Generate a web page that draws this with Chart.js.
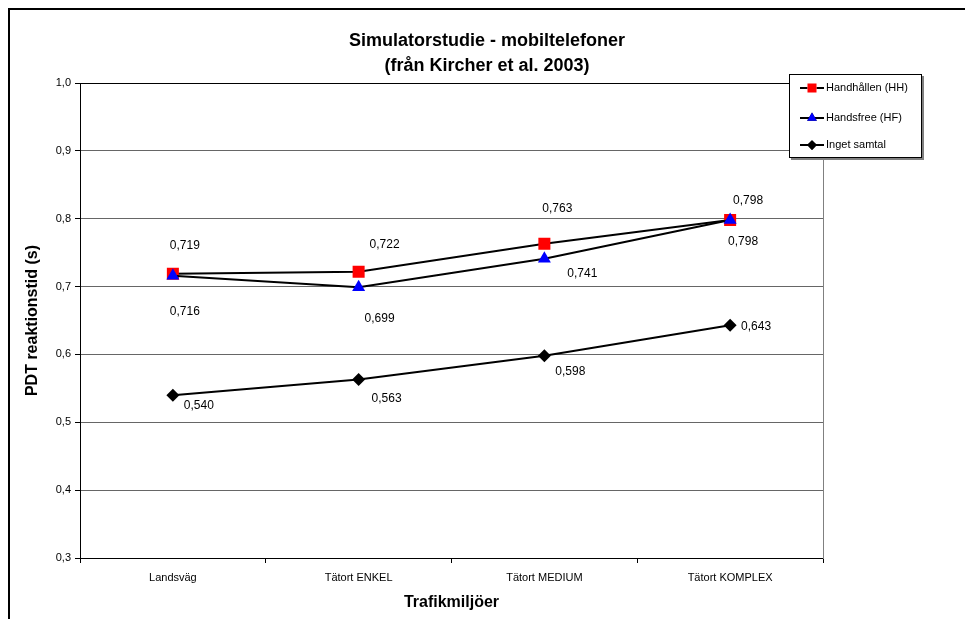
<!DOCTYPE html>
<html><head><meta charset="utf-8">
<script src="https://cdn.jsdelivr.net/npm/chart.js@4"></script>
<style>html,body{margin:0;padding:0;background:#fff}#wrap{position:relative;width:965px;height:619px}</style>
</head><body><div id="wrap"><canvas id="c" width="965" height="619"></canvas></div>
<script>
// ---- data ----
const categories = ['Landsväg', 'Tätort ENKEL', 'Tätort MEDIUM', 'Tätort KOMPLEX'];
const handhallen = [0.719, 0.722, 0.763, 0.798];
const handsfree = [0.716, 0.699, 0.741, 0.798];
const ingetSamtal = [0.540, 0.563, 0.598, 0.643];
const yTicks = [0.3, 0.4, 0.5, 0.6, 0.7, 0.8, 0.9, 1.0];
const seriesNames = ['Handhållen (HH)', 'Handsfree (HF)', 'Inget samtal'];
const titleLines = ['Simulatorstudie - mobiltelefoner', '(från Kircher et al. 2003)'];
const xTitle = 'Trafikmiljöer';
const yTitle = 'PDT reaktionstid (s)';

// ---- label placement (styling, pixel offsets from each point) ----
const labelOffsets = [
  [[12, -28], [26, -27], [13, -35], [18, -19]],
  [[12, 36], [21, 31], [38, 15], [13, 22]],
  [[26, 11], [28, 19], [26, 16], [26, 1]]
];

const FONT = '"Liberation Sans", Arial, sans-serif';
const fmt = v => v.toFixed(3).replace('.', ',');

const framePlugin = {
  id: 'frame',
  beforeDraw(chart) {
    const ctx = chart.ctx;
    ctx.save();
    ctx.fillStyle = '#fff';
    ctx.fillRect(0, 0, chart.width, chart.height);
    ctx.fillStyle = '#000';
    ctx.fillRect(8, 8, chart.width - 8, 2);
    ctx.fillRect(8, 8, 2, chart.height - 8);
    ctx.restore();
  },
  afterDatasetsDraw(chart) {
    const ctx = chart.ctx, a = chart.chartArea;
    ctx.save();
    // right border of plot
    ctx.strokeStyle = '#808080';
    ctx.lineWidth = 1;
    ctx.beginPath();
    ctx.moveTo(Math.round(a.right) + 0.5, a.top);
    ctx.lineTo(Math.round(a.right) + 0.5, a.bottom + 1);
    ctx.stroke();
    // titles
    ctx.fillStyle = '#000';
    ctx.textAlign = 'center';
    ctx.textBaseline = 'middle';
    ctx.font = 'bold 18px ' + FONT;
    ctx.fillText(titleLines[0], 487, 41);
    ctx.fillText(titleLines[1], 487, 66);
    ctx.font = 'bold 16px ' + FONT;
    ctx.fillText(xTitle, (a.left + a.right) / 2, 603);
    ctx.save();
    ctx.translate(33, (a.top + a.bottom) / 2);
    ctx.rotate(-Math.PI / 2);
    ctx.fillText(yTitle, 0, 0);
    ctx.restore();
    // data labels
    ctx.font = '12px ' + FONT;
    chart.data.datasets.forEach((ds, i) => {
      const meta = chart.getDatasetMeta(i);
      meta.data.forEach((pt, j) => {
        const off = labelOffsets[i][j];
        ctx.fillText(fmt(ds.data[j]), pt.x + off[0], pt.y + off[1]);
      });
    });
    // legend
    const bx = 789, by = 74, bw = 132, bh = 83;
    ctx.fillStyle = '#808080';
    ctx.fillRect(bx + 2, by + 2, bw + 1, bh + 1);
    ctx.fillStyle = '#fff';
    ctx.fillRect(bx, by, bw, bh);
    ctx.strokeStyle = '#000';
    ctx.strokeRect(bx + 0.5, by + 0.5, bw, bh);
    const rows = [88, 118, 145];
    chart.data.datasets.forEach((ds, i) => {
      const y = rows[i];
      ctx.strokeStyle = '#000';
      ctx.lineWidth = 2;
      ctx.beginPath();
      ctx.moveTo(800, y);
      ctx.lineTo(824, y);
      ctx.stroke();
      Chart.helpers.drawPoint(ctx, {
        pointStyle: ds.pointStyle,
        radius: ds.pointRadius * 0.75,
        borderWidth: 0
      }, 812, y);
      ctx.fillStyle = ds.pointBackgroundColor;
      ctx.fill();
      ctx.fillStyle = '#000';
      ctx.textAlign = 'left';
      ctx.font = '11px ' + FONT;
      ctx.fillText(seriesNames[i], 826, y);
    });
    ctx.restore();
  }
};

const common = { borderColor: '#000', borderWidth: 2, tension: 0, pointBorderWidth: 0 };

new Chart(document.getElementById('c'), {
  type: 'line',
  data: {
    labels: categories,
    datasets: [
      Object.assign({}, common, { label: seriesNames[0], data: handhallen, order: 1, pointStyle: 'rect', pointRadius: 8.5, pointBackgroundColor: '#ff0000', pointBorderColor: '#ff0000' }),
      Object.assign({}, common, { label: seriesNames[1], data: handsfree, order: 0, pointStyle: 'triangle', pointRadius: 7.5, pointBackgroundColor: '#0000ff', pointBorderColor: '#0000ff' }),
      Object.assign({}, common, { label: seriesNames[2], data: ingetSamtal, order: 2, pointStyle: 'rectRot', pointRadius: 6.5, pointBackgroundColor: '#000', pointBorderColor: '#000' })
    ]
  },
  options: {
    responsive: false,
    animation: false,
    devicePixelRatio: 1,
    layout: { padding: { left: 10, right: 142, top: 83, bottom: 0 } },
    plugins: { legend: { display: false }, title: { display: false }, tooltip: { enabled: false } },
    scales: {
      x: {
        type: 'category',
        offset: true,
        grid: { offset: true, drawOnChartArea: false, drawTicks: true, tickLength: 5, color: '#000' },
        border: { display: true, color: '#000', width: 1 },
        ticks: { color: '#000', font: { family: FONT, size: 11 }, padding: 8, maxRotation: 0 },
        afterFit(s) { s.height = 61; }
      },
      y: {
        min: 0.3, max: 1.0,
        afterBuildTicks(s) { s.ticks = yTicks.map(v => ({ value: v })); },
        grid: {
          color: ctx => (ctx.tick && ctx.tick.value >= 0.999) ? '#000' : '#666',
          tickColor: '#000', tickLength: 5, lineWidth: 1
        },
        border: { display: true, color: '#000', width: 1 },
        ticks: { color: '#000', font: { family: FONT, size: 11 }, padding: 4, callback: v => v.toFixed(1).replace('.', ',') },
        afterFit(s) { s.width = 70; }
      }
    }
  },
  plugins: [framePlugin]
});
</script></body></html>
